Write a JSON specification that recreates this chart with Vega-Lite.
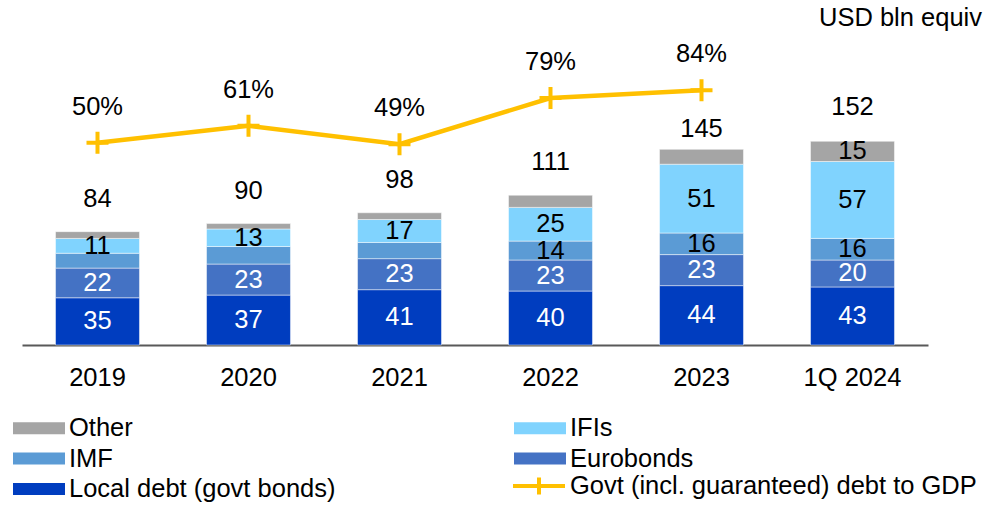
{
  "$schema": "https://vega.github.io/schema/vega-lite/v6.json",
  "width": 906,
  "height": 340,
  "autosize": {"type": "none"},
  "padding": {"left": 22, "top": 5, "right": 69, "bottom": 160},
  "background": "white",
  "config": {
    "view": {"stroke": null},
    "font": "Liberation Sans",
    "text": {"font": "Liberation Sans", "fontSize": 25.5},
    "axis": {"labelFont": "Liberation Sans"}
  },
  "title": {
    "text": "USD bln equiv",
    "anchor": "end",
    "frame": "group",
    "orient": "top",
    "offset": 0,
    "baseline": "middle",
    "dy": 38,
    "dx": 54,
    "font": "Liberation Sans",
    "fontSize": 25.5,
    "fontWeight": "normal",
    "color": "#000000"
  },
  "datasets": {
    "debt": [
      {"period": "2019", "series": "Local debt (govt bonds)", "value": 35},
      {"period": "2019", "series": "Eurobonds", "value": 22},
      {"period": "2019", "series": "IMF", "value": 11},
      {"period": "2019", "series": "IFIs", "value": 11},
      {"period": "2019", "series": "Other", "value": 5},
      {"period": "2020", "series": "Local debt (govt bonds)", "value": 37},
      {"period": "2020", "series": "Eurobonds", "value": 23},
      {"period": "2020", "series": "IMF", "value": 13},
      {"period": "2020", "series": "IFIs", "value": 13},
      {"period": "2020", "series": "Other", "value": 4},
      {"period": "2021", "series": "Local debt (govt bonds)", "value": 41},
      {"period": "2021", "series": "Eurobonds", "value": 23},
      {"period": "2021", "series": "IMF", "value": 12},
      {"period": "2021", "series": "IFIs", "value": 17},
      {"period": "2021", "series": "Other", "value": 5},
      {"period": "2022", "series": "Local debt (govt bonds)", "value": 40},
      {"period": "2022", "series": "Eurobonds", "value": 23},
      {"period": "2022", "series": "IMF", "value": 14},
      {"period": "2022", "series": "IFIs", "value": 25},
      {"period": "2022", "series": "Other", "value": 9},
      {"period": "2023", "series": "Local debt (govt bonds)", "value": 44},
      {"period": "2023", "series": "Eurobonds", "value": 23},
      {"period": "2023", "series": "IMF", "value": 16},
      {"period": "2023", "series": "IFIs", "value": 51},
      {"period": "2023", "series": "Other", "value": 11},
      {"period": "1Q 2024", "series": "Local debt (govt bonds)", "value": 43},
      {"period": "1Q 2024", "series": "Eurobonds", "value": 20},
      {"period": "1Q 2024", "series": "IMF", "value": 16},
      {"period": "1Q 2024", "series": "IFIs", "value": 57},
      {"period": "1Q 2024", "series": "Other", "value": 15}
    ],
    "totals": [
      {"period": "2019", "total": 84},
      {"period": "2020", "total": 90},
      {"period": "2021", "total": 98},
      {"period": "2022", "total": 111},
      {"period": "2023", "total": 145},
      {"period": "1Q 2024", "total": 152}
    ],
    "ratio": [
      {"period": "2019", "gdp": 0.50},
      {"period": "2020", "gdp": 0.61},
      {"period": "2021", "gdp": 0.49},
      {"period": "2022", "gdp": 0.79},
      {"period": "2023", "gdp": 0.84}
    ]
  },
  "encoding": {
    "x": {
      "field": "period",
      "type": "nominal",
      "sort": null,
      "scale": {
        "domain": ["2019", "2020", "2021", "2022", "2023", "1Q 2024"],
        "paddingInner": 0.444,
        "paddingOuter": 0.222
      },
      "axis": {
        "title": null,
        "labelAngle": 0,
        "labelFontSize": 25.5,
        "labelColor": "#000000",
        "ticks": false,
        "tickSize": 0,
        "labelPadding": 32,
        "labelBaseline": "middle",
        "domainColor": "#595959",
        "domainWidth": 2,
        "grid": false
      }
    }
  },
  "layer": [
    {
      "data": {"name": "debt"},
      "transform": [
        {"calculate": "indexof(['Local debt (govt bonds)','Eurobonds','IMF','IFIs','Other'], datum.series)", "as": "rank"}
      ],
      "layer": [
        {
          "mark": {"type": "bar", "stroke": "#ffffff", "strokeWidth": 0.8, "strokeOpacity": 0.6},
          "encoding": {
            "y": {"field": "value", "type": "quantitative", "stack": "zero", "scale": {"domain": [0, 252], "nice": false, "zero": false}, "axis": null},
            "order": {"field": "rank", "type": "quantitative", "sort": "ascending"},
            "color": {
              "field": "series",
              "type": "nominal",
              "scale": {
                "domain": ["Other", "IFIs", "IMF", "Eurobonds", "Local debt (govt bonds)"],
                "range": ["#A5A5A5", "#80D3FE", "#5B9BD5", "#4472C4", "#003DBF"]
              },
              "legend": {
                "orient": "none",
                "legendX": -9,
                "legendY": 410,
                "columns": 2,
                "direction": "horizontal",
                "title": null,
                "padding": 0,
                "labelFont": "Liberation Sans",
                "labelFontSize": 25.5,
                "labelColor": "#000000",
                "labelLimit": 600,
                "labelOffset": 17,
                "symbolType": "M-2,-0.46H2V0.46H-2Z",
                "symbolSize": 676,
                "symbolStrokeWidth": 0,
                "symbolOffset": 13,
                "symbolOpacity": 1,
                "columnPadding": 178,
                "rowPadding": 3.5
              }
            }
          }
        },
        {
          "mark": {"type": "text", "baseline": "middle", "align": "center", "fontSize": 25.5},
          "encoding": {
            "y": {"field": "value", "type": "quantitative", "stack": "zero", "bandPosition": 0.5},
            "detail": {"field": "series"},
            "order": {"field": "rank", "type": "quantitative", "sort": "ascending"},
            "text": {
              "field": "value",
              "type": "quantitative",
              "format": "d",
              "condition": {
                "test": "(datum.series === 'IMF' && (datum.period === '2019' || datum.period === '2020' || datum.period === '2021')) || (datum.series === 'Other' && datum.period !== '1Q 2024')",
                "value": ""
              }
            },
            "color": {
              "condition": {"test": "datum.series === 'Local debt (govt bonds)' || datum.series === 'Eurobonds'", "value": "#ffffff"},
              "value": "#000000"
            }
          }
        },
        {
          "data": {"name": "totals"},
          "transform": [{"filter": "datum.period !== '2023'"}],
          "mark": {"type": "text", "baseline": "middle", "align": "center", "fontSize": 25.5, "dy": -33, "color": "#000000"},
          "encoding": {
            "y": {"field": "total", "type": "quantitative"},
            "text": {"field": "total", "type": "quantitative", "format": "d"}
          }
        },
        {
          "data": {"name": "totals"},
          "transform": [{"filter": "datum.period === '2023'"}],
          "mark": {"type": "text", "baseline": "middle", "align": "center", "fontSize": 25.5, "dy": -20, "color": "#000000"},
          "encoding": {
            "y": {"field": "total", "type": "quantitative"},
            "text": {"field": "total", "type": "quantitative", "format": "d"}
          }
        }
      ]
    },
    {
      "data": {"name": "ratio"},
      "encoding": {
        "y": {"field": "gdp", "type": "quantitative", "scale": {"domain": [-0.814, 1.394], "nice": false, "zero": false}, "axis": null}
      },
      "layer": [
        {
          "mark": {"type": "line", "strokeWidth": 4.5},
          "encoding": {
            "stroke": {
              "datum": "Govt (incl. guaranteed) debt to GDP",
              "type": "nominal",
              "scale": {"range": ["#FFC000"]},
              "legend": {
                "orient": "none",
                "legendX": 491,
                "legendY": 466,
                "title": null,
                "padding": 0,
                "labelFont": "Liberation Sans",
                "labelFontSize": 25.5,
                "labelColor": "#000000",
                "labelLimit": 600,
                "labelOffset": 16,
                "symbolType": "M-2,0H2M0,-0.66V0.66",
                "symbolSize": 676,
                "symbolStrokeWidth": 4,
                "symbolFillColor": "transparent",
                "symbolOffset": 11,
                "symbolOpacity": 1
              }
            }
          }
        },
        {
          "mark": {"type": "point", "shape": "M-1,0H1M0,-1V1", "size": 484, "filled": false, "color": "#FFC000", "strokeWidth": 4, "opacity": 1},
          "encoding": {}
        },
        {
          "mark": {"type": "text", "baseline": "middle", "align": "center", "fontSize": 25.5, "dy": -36, "color": "#000000"},
          "encoding": {
            "text": {"field": "gdp", "type": "quantitative", "format": ".0%"}
          }
        }
      ]
    }
  ],
  "resolve": {"scale": {"y": "independent"}}
}
